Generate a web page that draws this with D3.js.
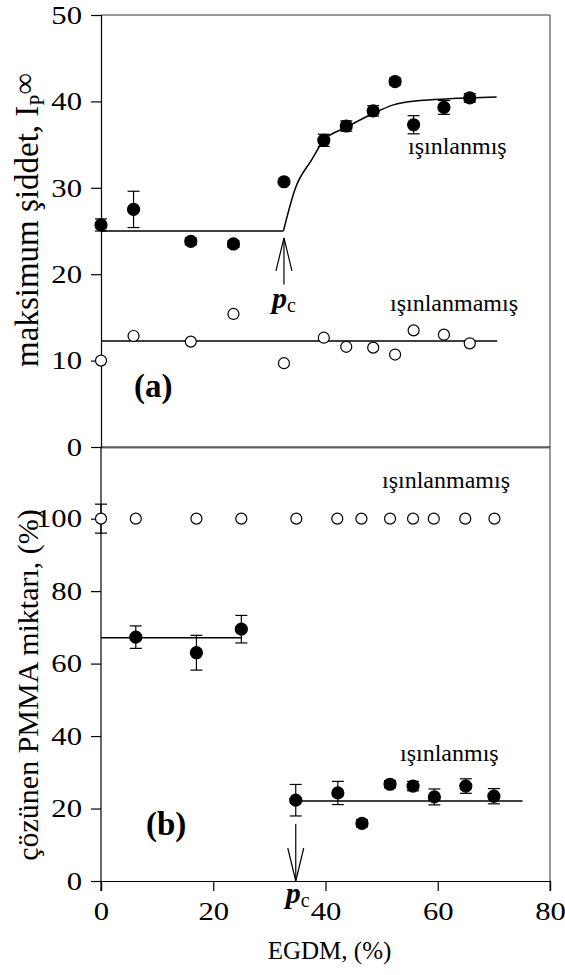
<!DOCTYPE html>
<html>
<head>
<meta charset="utf-8">
<script src="https://cdn.jsdelivr.net/npm/d3@7"></script>
<style>
  body { margin: 0; background: #fff; }
  svg text { font-family: "Liberation Serif", "Times New Roman", serif; fill: #000; }
</style>
</head>
<body>
<div id="chart"></div>
<script>
// ---- data ----
// panel (a): maksimum şiddet
var egdmA = [0, 5.8, 16.0, 23.6, 32.6, 39.7, 43.7, 48.5, 52.4, 55.7, 61.1, 65.7];
var irradA = [25.7, 27.5, 23.8, 23.5, 30.7, 35.5, 37.15, 38.9, 42.3, 37.3, 39.3, 40.4];
var irradAErr = [0.7, 2.1, 0.4, 0.4, 0.3, 0.7, 0.6, 0.6, 0.4, 1.05, 0.8, 0.5];
var unirradA = [10.0, 12.85, 12.2, 15.4, 9.7, 12.65, 11.6, 11.5, 10.7, 13.5, 13.0, 12.0];

// fitted curves in (a)
var fitFlatA = [[0, 25.0], [32.5, 25.0]];
var fitRiseA = [[32.5, 25.0], [34.6, 29.9], [37.5, 33.2], [39.7, 35.5], [43.7, 37.0],
                [48.5, 38.6], [52.1, 39.6], [56.8, 40.1], [62.0, 40.3], [70.5, 40.5]];
var fitUnirradA = [[0, 12.27], [70.6, 12.27]];

// panel (b): çözünen PMMA miktarı
var egdmBOpen = [0, 6.2, 17.0, 25.0, 34.8, 42.1, 46.4, 51.5, 55.6, 59.3, 64.9, 70.1];
var unirradB = [100, 100, 100, 100, 100, 100, 100, 100, 100, 100, 100, 100];
var unirradBErr = [4, 0, 0, 0, 0, 0, 0, 0, 0, 0, 0, 0];
var egdmBFill = [6.2, 17.0, 25.0, 34.7, 42.2, 46.5, 51.5, 55.6, 59.4, 65.0, 70.0];
var irradB = [67.3, 63.0, 69.5, 22.3, 24.3, 15.9, 26.7, 26.2, 23.2, 26.2, 23.4];
var irradBErr = [3.1, 4.8, 3.8, 4.35, 3.2, 1.0, 1.0, 1.3, 2.2, 2.0, 2.1];
var fitLowB = [[0, 67.1], [25.0, 67.1]];
var fitHighB = [[34.7, 22.1], [75.1, 22.1]];

// percolation threshold arrows [x, from, to]
var pcA = [32.6, 18.8, 24.2];
var pcB = [34.7, 15.7, 0];

var xTicks = [0, 20, 40, 60, 80];
var yTicksA = [0, 10, 20, 30, 40, 50];
var yTicksB = [0, 20, 40, 60, 80, 100];

// ---- layout ----
var W = 565, H = 975;
var left = 101, right = 550;
var topA = 15, botA = 447, topB = 448, botB = 881;

var svg = d3.select("#chart").append("svg")
	.attr("width", W)
	.attr("height", H);

var x = d3.scaleLinear().domain([0, 80]).range([left, right]);
var yA = d3.scaleLinear().domain([0, 50]).range([botA, topA]);
var yB = d3.scaleLinear().domain([0, 119.5]).range([botB, topB]);

var tickFont = "26px";
var tickStretch = 1.18; // digits in the original look a bit wide

// frame lines (grey top/right like the original)
svg.append("line").attr("x1", left).attr("x2", right).attr("y1", topA).attr("y2", topA)
	.attr("stroke", "#777").attr("stroke-width", 1.5);
svg.append("line").attr("x1", right).attr("x2", right).attr("y1", topA).attr("y2", botB + 10)
	.attr("stroke", "#777").attr("stroke-width", 1.5);
svg.append("line").attr("x1", left).attr("x2", right).attr("y1", topB).attr("y2", topB)
	.attr("stroke", "#777").attr("stroke-width", 1);

// y axis (a)
var axA = svg.append("g")
	.attr("transform", "translate(" + left + ",0)")
	.call(d3.axisLeft(yA).tickValues(yTicksA).tickSize(10).tickPadding(9).tickFormat(d3.format("d")));
// y axis (b)
var axB = svg.append("g")
	.attr("transform", "translate(" + left + ",0)")
	.call(d3.axisLeft(yB).tickValues(yTicksB).tickSize(10).tickPadding(9).tickFormat(d3.format("d")));
axB.select(".domain").attr("d", "M0," + (botB + 10) + "V" + topB);

// x axis of (a) : plain line
svg.append("line").attr("x1", left).attr("x2", right).attr("y1", botA).attr("y2", botA)
	.attr("stroke", "#000").attr("stroke-width", 1.2);

// x axis (b)
var axX = svg.append("g")
	.attr("transform", "translate(0," + botB + ")")
	.call(d3.axisBottom(x).tickValues(xTicks).tickSize(10).tickPadding(11).tickFormat(d3.format("d")));

svg.selectAll(".tick text").style("font-size", tickFont);
[axA, axB].forEach(function (ax) {
	ax.selectAll(".tick text")
		.attr("x", 0)
		.attr("transform", "translate(-19,0) scale(" + tickStretch + ",1)");
});
axX.selectAll(".tick text").attr("transform", "scale(" + tickStretch + ",1)");
svg.selectAll(".domain, .tick line").attr("stroke", "#000").attr("stroke-width", 1.2);

// ---- helper drawers ----
var line = d3.line().x(function (d) { return x(d[0]); });

function drawLine(pts, yScale, curve) {
	svg.append("path")
		.datum(pts)
		.attr("d", line.y(function (d) { return yScale(d[1]); }).curve(curve || d3.curveLinear))
		.attr("fill", "none")
		.attr("stroke", "#000")
		.attr("stroke-width", 1.5);
}

function drawErr(xs, ys, errs, yScale) {
	var g = svg.append("g");
	xs.forEach(function (xv, i) {
		if (!errs[i]) return;
		var cx = x(xv), y1 = yScale(ys[i] + errs[i]), y2 = yScale(ys[i] - errs[i]);
		g.append("line").attr("x1", cx).attr("x2", cx).attr("y1", y1).attr("y2", y2)
			.attr("stroke", "#000").attr("stroke-width", 1.2);
		g.append("line").attr("x1", cx - 6).attr("x2", cx + 6).attr("y1", y1).attr("y2", y1)
			.attr("stroke", "#000").attr("stroke-width", 1.2);
		g.append("line").attr("x1", cx - 6).attr("x2", cx + 6).attr("y1", y2).attr("y2", y2)
			.attr("stroke", "#000").attr("stroke-width", 1.2);
	});
}

function drawDots(xs, ys, yScale, filled) {
	svg.append("g").selectAll("circle")
		.data(xs)
		.enter().append("circle")
		.attr("cx", function (d) { return x(d); })
		.attr("cy", function (d, i) { return yScale(ys[i]); })
		.attr("r", filled ? 6 : 5.5)
		.attr("fill", filled ? "#000" : "#fff")
		.attr("stroke", "#000")
		.attr("stroke-width", 1.2);
}

function drawArrow(a, yScale) {
	var cx = x(a[0]), y0 = yScale(a[1]), y1 = yScale(a[2]);
	var dir = y1 < y0 ? 1 : -1; // wings go back toward the tail
	var g = svg.append("g").attr("stroke", "#000").attr("stroke-width", 1.2).attr("fill", "none");
	g.append("line").attr("x1", cx).attr("x2", cx).attr("y1", y0).attr("y2", y1);
	g.append("path").attr("d", "M" + (cx - 8) + "," + (y1 + dir * 33) + "L" + cx + "," + y1 + "L" + (cx + 8) + "," + (y1 + dir * 33));
}

function pcLabel(px, py) {
	var t = svg.append("text").attr("x", px).attr("y", py);
	t.append("tspan").text("p").style("font-size", "30px").style("font-weight", "bold").style("font-style", "italic");
	t.append("tspan").text("c").style("font-size", "20px").attr("dy", 4);
}

// ---- panel (a) ----
drawLine(fitFlatA, yA);
drawLine(fitRiseA, yA, d3.curveMonotoneX);
drawLine(fitUnirradA, yA);
drawErr(egdmA, irradA, irradAErr, yA);
drawDots(egdmA, irradA, yA, true);
drawDots(egdmA, unirradA, yA, false);
drawArrow(pcA, yA);
pcLabel(x(pcA[0]) - 12, yA(pcA[1]) + 23);

svg.append("text").attr("x", 408).attr("y", 154).style("font-size", "24px").text("ışınlanmış");
svg.append("text").attr("x", 390).attr("y", 311).style("font-size", "24px").text("ışınlanmamış");
svg.append("text").attr("x", 134).attr("y", 397).style("font-size", "33px").style("font-weight", "bold").text("(a)");

// ---- panel (b) ----
drawLine(fitLowB, yB);
drawLine(fitHighB, yB);
drawErr(egdmBOpen, unirradB, unirradBErr, yB);
drawErr(egdmBFill, irradB, irradBErr, yB);
drawDots(egdmBOpen, unirradB, yB, false);
drawDots(egdmBFill, irradB, yB, true);
drawArrow(pcB, yB);
pcLabel(x(pcB[0]) - 10, botB + 22);

svg.append("text").attr("x", 400).attr("y", 761).style("font-size", "24px").text("ışınlanmış");
svg.append("text").attr("x", 382).attr("y", 488).style("font-size", "24px").text("ışınlanmamış");
svg.append("text").attr("x", 146).attr("y", 835).style("font-size", "33px").style("font-weight", "bold").text("(b)");

// ---- axis titles ----
svg.append("text")
	.attr("x", (left + right) / 2 + 4).attr("y", 959)
	.attr("text-anchor", "middle")
	.style("font-size", "25px")
	.text("EGDM, (%)");

var tA = svg.append("text")
	.attr("transform", "translate(38,220) rotate(-90)")
	.attr("text-anchor", "middle")
	.style("font-size", "33px");
tA.append("tspan").text("maksimum şiddet, I");
tA.append("tspan").text("P").style("font-size", "20px").attr("dy", 6);
tA.append("tspan").text("∞").style("font-size", "30px").attr("dy", -10);

svg.append("text")
	.attr("transform", "translate(38,685) rotate(-90)")
	.attr("text-anchor", "middle")
	.style("font-size", "30px")
	.text("çözünen PMMA miktarı, (%)");
</script>
</body>
</html>
